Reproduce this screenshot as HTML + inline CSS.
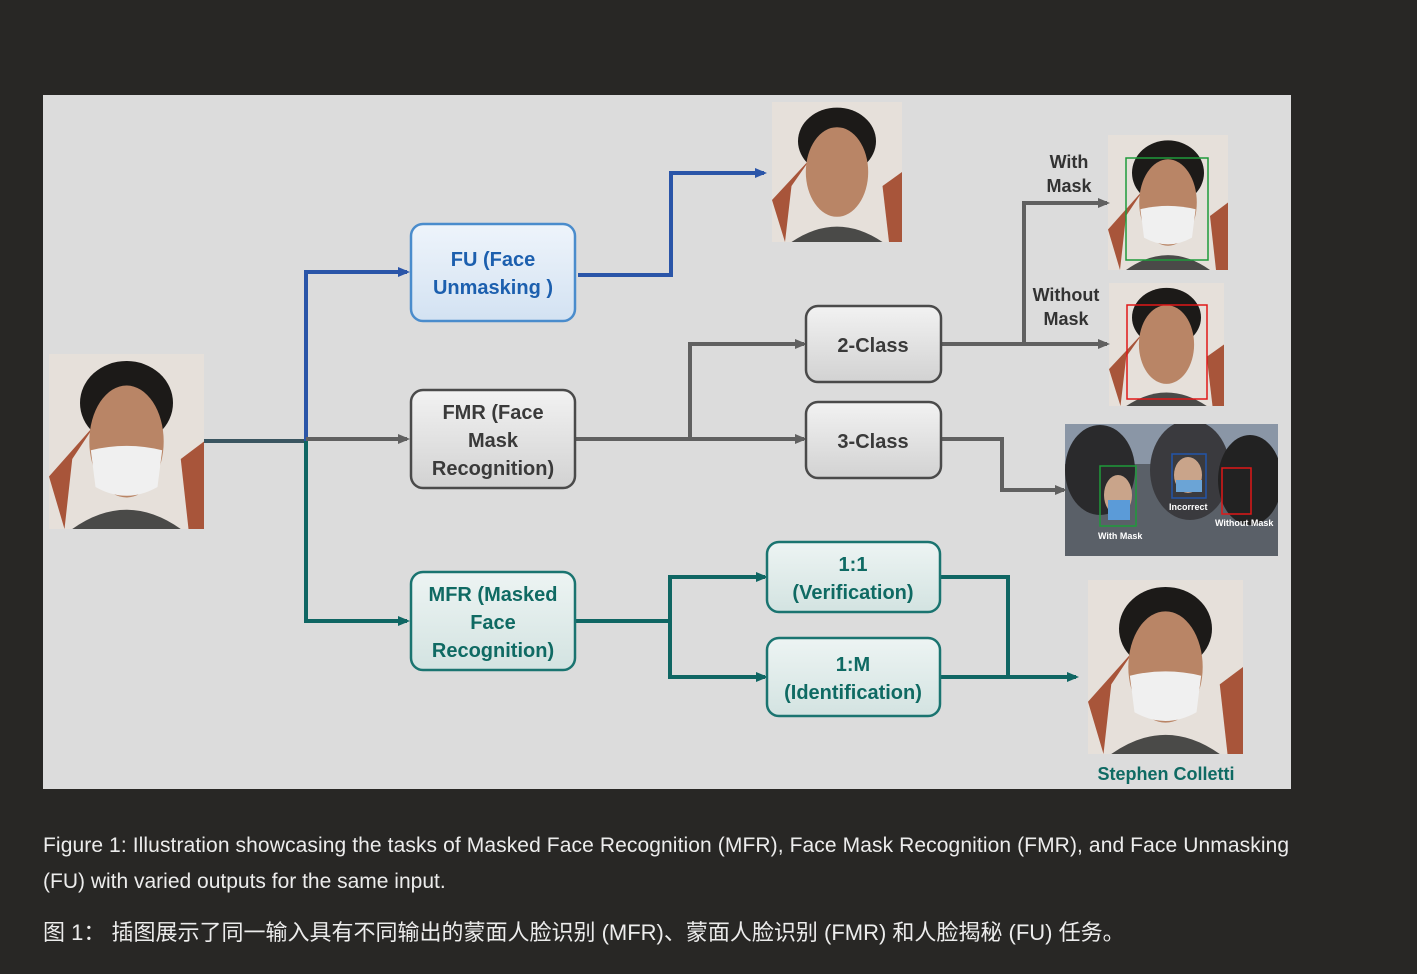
<!DOCTYPE html>
<html><head><meta charset="utf-8"><style>
body{margin:0;background:#282725;width:1417px;height:974px;overflow:hidden;font-family:"Liberation Sans",sans-serif}
.cap{position:absolute;left:43px;color:#ececec;font-size:21px;white-space:nowrap}
</style></head><body>
<svg width="1417" height="800" style="position:absolute;left:0;top:0" font-family="Liberation Sans, sans-serif">
<defs>
<marker id="ab" markerWidth="12" markerHeight="12" refX="9" refY="6" orient="auto" markerUnits="userSpaceOnUse"><path d="M0,1L12,6L0,11z" fill="#2a55a8"/></marker>
<marker id="ag" markerWidth="12" markerHeight="12" refX="9" refY="6" orient="auto" markerUnits="userSpaceOnUse"><path d="M0,1L12,6L0,11z" fill="#606060"/></marker>
<marker id="at" markerWidth="12" markerHeight="12" refX="9" refY="6" orient="auto" markerUnits="userSpaceOnUse"><path d="M0,1L12,6L0,11z" fill="#0f6663"/></marker>
<clipPath id="cc"><rect x="1065" y="424" width="213" height="132"/></clipPath>
<linearGradient id="gb" x1="0" y1="0" x2="0" y2="1"><stop offset="0" stop-color="#eef4fb"/><stop offset="1" stop-color="#d3e2f2"/></linearGradient>
<linearGradient id="gg" x1="0" y1="0" x2="0" y2="1"><stop offset="0" stop-color="#f2f2f2"/><stop offset="1" stop-color="#d2d2d2"/></linearGradient>
<linearGradient id="gt" x1="0" y1="0" x2="0" y2="1"><stop offset="0" stop-color="#edf4f3"/><stop offset="1" stop-color="#d3e3e1"/></linearGradient>
<g id="face">
<rect width="100" height="100" fill="#e6e0da"/>
<path d="M10,100 L15,60 L30,40 L0,70Z" fill="#a8553a"/>
<path d="M90,100 L85,60 L100,50 L100,100Z" fill="#a8553a"/>
<ellipse cx="50" cy="28" rx="30" ry="24" fill="#1c1a18"/>
<ellipse cx="50" cy="50" rx="24" ry="32" fill="#b98566"/>
<path d="M15,100 Q50,78 85,100Z" fill="#4a4a48"/>
</g>
<g id="mface"><use href="#face"/><path d="M27,55 Q50,50 73,55 L70,76 Q50,86 30,76Z" fill="#f0f0f0"/></g>
</defs>
<rect x="43" y="95" width="1248" height="694" fill="#dcdcdc"/>
<use href="#mface" transform="translate(49,354) scale(1.55,1.75)"/>
<use href="#face" transform="translate(772,102) scale(1.3,1.4)"/>
<use href="#mface" transform="translate(1108,135) scale(1.2,1.35)"/>
<rect x="1126" y="158" width="82" height="102" fill="none" stroke="#1e9a3a" stroke-width="1.5"/>
<use href="#face" transform="translate(1109,283) scale(1.15,1.23)"/>
<rect x="1127" y="305" width="80" height="94" fill="none" stroke="#e01818" stroke-width="1.5"/>
<use href="#mface" transform="translate(1088,580) scale(1.55,1.74)"/>
<g clip-path="url(#cc)">
<rect x="1065" y="424" width="213" height="132" fill="#5a6068"/>
<rect x="1065" y="424" width="213" height="40" fill="#8a96a6"/>
<ellipse cx="1100" cy="470" rx="35" ry="45" fill="#2a2a2c"/>
<ellipse cx="1190" cy="470" rx="40" ry="50" fill="#3a3a3e"/>
<ellipse cx="1250" cy="480" rx="32" ry="45" fill="#222"/>
<ellipse cx="1118" cy="495" rx="14" ry="20" fill="#c9a48a"/>
<ellipse cx="1188" cy="475" rx="14" ry="18" fill="#c9a48a"/>
<path d="M1108,500 h22 v20 h-22z" fill="#5b9bd8"/>
<path d="M1176,480 h26 v12 h-26z" fill="#6ba4d6"/>
<rect x="1100" y="466" width="36" height="60" fill="none" stroke="#1e9a3a" stroke-width="1.5"/>
<rect x="1172" y="454" width="34" height="44" fill="none" stroke="#2255aa" stroke-width="1.5"/>
<rect x="1222" y="468" width="29" height="46" fill="none" stroke="#e01818" stroke-width="1.5"/>
<text x="1098" y="539" font-size="9" fill="#fff" font-weight="bold">With Mask</text>
<text x="1169" y="510" font-size="9" fill="#fff" font-weight="bold">Incorrect</text>
<text x="1215" y="526" font-size="9" fill="#fff" font-weight="bold">Without Mask</text>
</g>
<g fill="none" stroke-width="4">
<path d="M204,441 H306" stroke="#3a5560"/>
<path d="M306,441 V272 H407" stroke="#2a55a8" marker-end="url(#ab)"/>
<path d="M306,439 H407" stroke="#606060" marker-end="url(#ag)"/>
<path d="M306,441 V621 H407" stroke="#0f6663" marker-end="url(#at)"/>
<path d="M578,275 H671 V173 H764" stroke="#2a55a8" marker-end="url(#ab)"/>
<path d="M575,439 H804" stroke="#606060" marker-end="url(#ag)"/>
<path d="M690,439 V344 H804" stroke="#606060" marker-end="url(#ag)"/>
<path d="M941,344 H1107" stroke="#606060" marker-end="url(#ag)"/>
<path d="M1024,344 V203 H1107" stroke="#606060" marker-end="url(#ag)"/>
<path d="M941,439 H1002 V490 H1064" stroke="#606060" marker-end="url(#ag)"/>
<path d="M575,621 H670 V577 H765" stroke="#0f6663" marker-end="url(#at)"/>
<path d="M670,621 V677 H765" stroke="#0f6663" marker-end="url(#at)"/>
<path d="M940,577 H1008 V677" stroke="#0f6663"/>
<path d="M940,677 H1076" stroke="#0f6663" marker-end="url(#at)"/>
</g>
<g stroke-width="2.5">
<rect x="411" y="224" width="164" height="97" rx="12" fill="url(#gb)" stroke="#4a8ccc"/>
<rect x="411" y="390" width="164" height="98" rx="12" fill="url(#gg)" stroke="#4a4a4a"/>
<rect x="411" y="572" width="164" height="98" rx="12" fill="url(#gt)" stroke="#1a7470"/>
<rect x="806" y="306" width="135" height="76" rx="12" fill="url(#gg)" stroke="#4a4a4a"/>
<rect x="806" y="402" width="135" height="76" rx="12" fill="url(#gg)" stroke="#4a4a4a"/>
<rect x="767" y="542" width="173" height="70" rx="12" fill="url(#gt)" stroke="#1a7470"/>
<rect x="767" y="638" width="173" height="78" rx="12" fill="url(#gt)" stroke="#1a7470"/>
</g>
<g font-size="20" font-weight="bold" text-anchor="middle">
<text x="493" y="266" fill="#1c5fae">FU (Face</text>
<text x="493" y="294" fill="#1c5fae">Unmasking )</text>
<text x="493" y="419" fill="#3a3a3a">FMR (Face</text>
<text x="493" y="447" fill="#3a3a3a">Mask</text>
<text x="493" y="475" fill="#3a3a3a">Recognition)</text>
<text x="493" y="601" fill="#0f6a63">MFR (Masked</text>
<text x="493" y="629" fill="#0f6a63">Face</text>
<text x="493" y="657" fill="#0f6a63">Recognition)</text>
<text x="873" y="352" fill="#3a3a3a">2-Class</text>
<text x="873" y="448" fill="#3a3a3a">3-Class</text>
<text x="853" y="571" fill="#0f6a63">1:1</text>
<text x="853" y="599" fill="#0f6a63">(Verification)</text>
<text x="853" y="671" fill="#0f6a63">1:M</text>
<text x="853" y="699" fill="#0f6a63">(Identification)</text>
</g>
<g font-size="18" font-weight="bold" text-anchor="middle" fill="#333">
<text x="1069" y="168">With</text><text x="1069" y="192">Mask</text>
<text x="1066" y="301">Without</text><text x="1066" y="325">Mask</text>
<text x="1166" y="780" fill="#0f6a63">Stephen Colletti</text>
</g>
</svg>
<div class="cap" style="top:834px;letter-spacing:0.1px">Figure 1: Illustration showcasing the tasks of Masked Face Recognition (MFR), Face Mask Recognition (FMR), and Face Unmasking</div>
<div class="cap" style="top:870px">(FU) with varied outputs for the same input.</div>
<div class="cap" style="top:915px;font-family:'Liberation Sans','Noto Sans CJK SC',sans-serif;font-size:22px">图 1：&nbsp;插图展示了同一输入具有不同输出的蒙面人脸识别 (MFR)、蒙面人脸识别 (FMR) 和人脸揭秘 (FU) 任务。</div>
</body></html>
